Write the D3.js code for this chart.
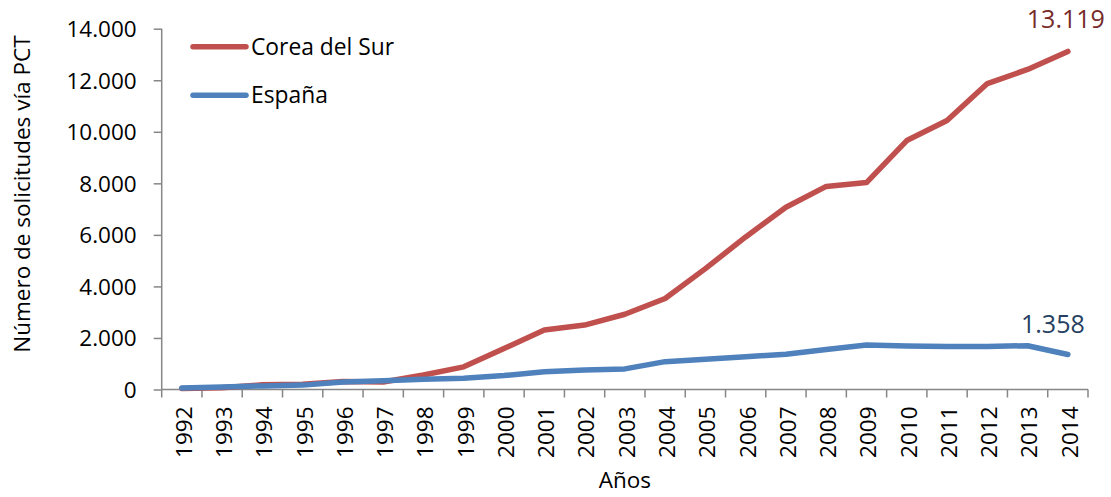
<!DOCTYPE html>
<html>
<head>
<meta charset="utf-8">
<script src="https://cdn.jsdelivr.net/npm/d3@7"></script>
<style>
  body { margin: 0; background: #fff; }
  text { font-family: "Open Sans", "Noto Sans", sans-serif; fill: #000; }
</style>
</head>
<body>
<svg id="chart"></svg>
<script>
let width = 1111;
let height = 497;

// datos
let years = ["1992","1993","1994","1995","1996","1997","1998","1999","2000","2001","2002","2003",
  "2004","2005","2006","2007","2008","2009","2010","2011","2012","2013","2014"];
let corea = [40, 70, 180, 200, 310, 290, 560, 880, 1590, 2310, 2500, 2920,
  3530, 4690, 5920, 7070, 7880, 8030, 9660, 10440, 11870, 12420, 13119];
let espana = [60, 100, 140, 170, 290, 340, 400, 440, 540, 690, 760, 800,
  1080, 1170, 1270, 1370, 1550, 1730, 1690, 1670, 1670, 1700, 1358];
let yTicks = [0, 2000, 4000, 6000, 8000, 10000, 12000, 14000];
let seriesNames = ["Corea del Sur", "España"];
let colors = ["#C0504D", "#4F81BD"];
let labelColors = ["#772C2A", "#254061"];

let margin = { left: 161.7, right: 1088, top: 28.7, bottom: 389.5 };

let svg = d3.select("#chart").attr("width", width).attr("height", height);

let x = d3.scaleBand().domain(years).range([margin.left, margin.right]);
let y = d3.scaleLinear().domain([0, 14000]).range([margin.bottom, margin.top]);

let fmt = d => d3.format(",")(d).replace(/,/g, ".");

// eje Y
let yAxis = svg.append("g")
  .attr("transform", `translate(${margin.left},0)`)
  .call(d3.axisLeft(y).tickValues(yTicks).tickSize(8).tickPadding(17).tickFormat(fmt));
yAxis.selectAll("text").style("font-size", "22.5px").attr("dy", "0.35em");

// eje X
let xAxis = svg.append("g")
  .attr("transform", `translate(0,${margin.bottom})`)
  .call(d3.axisBottom(x).tickSize(0).tickPadding(0));
xAxis.selectAll(".tick line").remove();
xAxis.selectAll("text")
  .style("font-size", "22.5px")
  .attr("transform", "rotate(-90)")
  .attr("text-anchor", "end")
  .attr("x", -17)
  .attr("y", 2)
  .attr("dy", "0.35em");

// marcas entre categorías
xAxis.selectAll(".sep")
  .data(years.concat(["end"]))
  .enter().append("line")
  .attr("x1", (d, i) => margin.left + i * x.step())
  .attr("x2", (d, i) => margin.left + i * x.step())
  .attr("y1", 0)
  .attr("y2", 8);

svg.selectAll(".domain, .tick line, g line").attr("stroke", "#868686").attr("stroke-width", 1.5);
xAxis.select(".domain").attr("d", `M${margin.left},0H${margin.right}`);
yAxis.select(".domain").attr("d", `M0,${margin.bottom}V${margin.top}`);

// líneas
let line = d3.line()
  .x((d, i) => x(years[i]) + x.bandwidth() / 2)
  .y(d => y(d));

[corea, espana].forEach((s, k) => {
  svg.append("path")
    .datum(s)
    .attr("fill", "none")
    .attr("stroke", colors[k])
    .attr("stroke-width", 5.5)
    .attr("stroke-linejoin", "round")
    .attr("stroke-linecap", "round")
    .attr("d", line);
});

// etiquetas del último valor
let last = years.length - 1;
let lastX = x(years[last]) + x.bandwidth() / 2;
svg.append("text")
  .attr("x", lastX - 2)
  .attr("y", y(corea[last]) - 23)
  .attr("text-anchor", "middle")
  .style("font-size", "25px")
  .style("fill", labelColors[0])
  .text(fmt(corea[last]));
svg.append("text")
  .attr("x", lastX - 15)
  .attr("y", y(espana[last]) - 22)
  .attr("text-anchor", "middle")
  .style("font-size", "25px")
  .style("fill", labelColors[1])
  .text(fmt(espana[last]));

// leyenda
let legend = svg.append("g");
seriesNames.forEach((n, k) => {
  let ly = 46.7 + k * 48.6;
  legend.append("line")
    .attr("x1", 193).attr("x2", 246)
    .attr("y1", ly).attr("y2", ly)
    .attr("stroke", colors[k])
    .attr("stroke-width", 5.5)
    .attr("stroke-linecap", "round");
  legend.append("text")
    .attr("x", 251)
    .attr("y", ly)
    .attr("dy", "0.35em")
    .style("font-size", "22.8px")
    .text(n);
});

// títulos de ejes
svg.append("text")
  .attr("x", (margin.left + margin.right) / 2)
  .attr("y", 488)
  .attr("text-anchor", "middle")
  .style("font-size", "22.5px")
  .text("Años");

svg.append("text")
  .attr("transform", `translate(30,${(margin.top + margin.bottom) / 2 - 15}) rotate(-90)`)
  .attr("text-anchor", "middle")
  .style("font-size", "22.5px")
  .text("Número de solicitudes vía PCT");
</script>
</body>
</html>
